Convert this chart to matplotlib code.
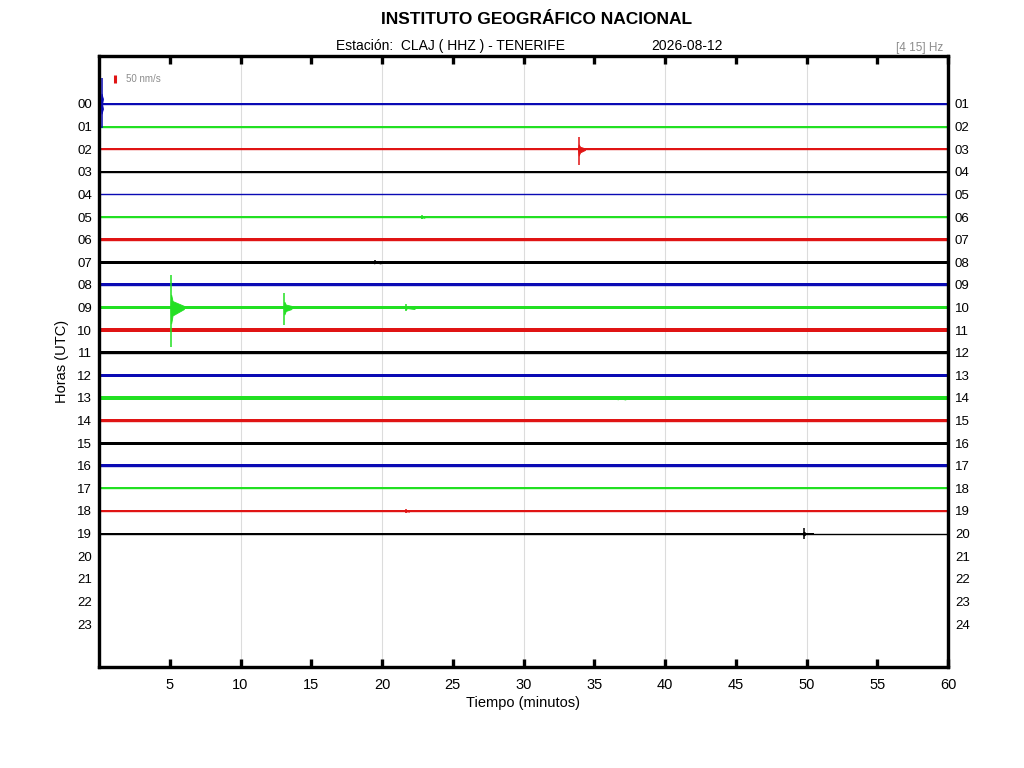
import numpy as np
import matplotlib
matplotlib.use("Agg")
import matplotlib.pyplot as plt

plt.rcParams['font.family'] = ['Liberation Sans', 'DejaVu Sans']

# ---- data ----
hours = list(range(24))
left_labels = [f"{h:02d}" for h in range(24)]
right_labels = [f"{h:02d}" for h in range(1, 25)]
x_ticks = [5, 10, 15, 20, 25, 30, 35, 40, 45, 50, 55, 60]
grid_x = [10, 20, 30, 40, 50]
# background noise half-amplitude (nm/s) for hours with data (00..19)
noise_nm = [5, 5, 5, 7, 4, 5, 7, 8, 10, 10, 10, 10, 9, 10, 9, 10, 8, 7, 5, 3]
# minute where the recorded data ends for each hour
data_end = [60] * 19 + [50.5]
# events: hour, peak minute, up amplitude (nm/s), down amplitude (nm/s), coda (min)
ev_hour = [0, 2, 9, 9, 9, 5, 18, 19, 13, 7]
ev_min = [0.18, 33.9, 5.1, 13.1, 21.7, 22.8, 21.7, 49.8, 36.7, 19.5]
ev_up = [160, 75, 200, 90, 22, 14, 10, 32, 14, 12]
ev_down = [150, 100, 250, 110, 22, 14, 10, 32, 14, 12]
ev_coda = [0.05, 0.45, 0.9, 0.5, 0.6, 0.2, 0.2, 0.05, 0.5, 0.4]
scale_nm = 50
colors = ['#0a0ab4', '#22e022', '#e01414', '#000000']

# ---- drawing ----
fig = plt.figure(figsize=(10.24, 7.68), dpi=100)
ax = fig.add_axes([99/1024, 1-667/768, (948-99)/1024, (667-56)/768])
ax.set_xlim(0, 60)
ax.set_ylim(24.9, -2.12)

unit_per_nm = (8 / 22.6) / scale_nm   # 50 nm/s bar = 8 px, hour spacing = 22.6 px

for x in grid_x:
    ax.axvline(x, color='#dcdcdc', lw=0.8, zorder=0)

for h, amp in enumerate(noise_nm):
    c = colors[h % 4]
    a = amp * unit_per_nm
    ax.plot([0, 60], [h, h], color=c, lw=1.0, zorder=2)
    ax.fill_between([0, data_end[h]], [h - a, h - a], [h + a, h + a],
                    color=c, lw=0, zorder=2)

for h, t, up, dn, coda in zip(ev_hour, ev_min, ev_up, ev_down, ev_coda):
    c = colors[h % 4]
    b = noise_nm[h] * unit_per_nm
    ax.vlines(t, h - up * unit_per_nm, h + dn * unit_per_nm, color=c, lw=1.1, zorder=3)
    xs = [t - 0.05, t, t + 0.1, t + coda]
    top = [h - b, h - up * unit_per_nm * 0.4, h - up * unit_per_nm * 0.2, h - b]
    bot = [h + b, h + dn * unit_per_nm * 0.4, h + dn * unit_per_nm * 0.2, h + b]
    ax.fill_between(xs, top, bot, color=c, lw=0.6, edgecolor=c, zorder=3)

# scale bar
ax.plot([1.1, 1.1], [-1.1 - scale_nm * unit_per_nm / 2, -1.1 + scale_nm * unit_per_nm / 2],
        color='#e01414', lw=2.2, solid_capstyle='butt', zorder=3)
ax.text(1.9, -1.1, f"{scale_nm} nm/s", fontsize=7, color='#8c8c8c', va='center', ha='left')

ax.set_yticks(hours)
ax.set_yticklabels(left_labels)
ax.tick_params(axis='y', length=0, pad=5, labelsize=9.5)
ax2 = ax.twinx()
ax2.set_ylim(ax.get_ylim())
ax2.set_yticks(hours)
ax2.set_yticklabels(right_labels)
ax2.tick_params(axis='y', length=0, pad=5, labelsize=9.5)

ax.set_xticks(x_ticks)
ax.set_xticklabels([str(v) for v in x_ticks])
ax.tick_params(axis='x', direction='in', length=6, width=2.4, top=True, labelsize=10.5, pad=8)
for a_ in (ax, ax2):
    for s in a_.spines.values():
        s.set_linewidth(2.3)

ax.set_ylabel("Horas (UTC)", fontsize=10.5, labelpad=6)
ax.set_xlabel("Tiempo (minutos)", fontsize=10.5, labelpad=3)

fig.text(0.5235, 0.975, "INSTITUTO GEOGRÁFICO NACIONAL", ha='center', va='center',
         fontsize=12.5, fontweight='bold')
fig.text(0.440, 0.940, "Estación:  CLAJ ( HHZ ) - TENERIFE", ha='center', va='center', fontsize=10)
fig.text(0.671, 0.940, "2026-08-12", ha='center', va='center', fontsize=10)
fig.text(0.898, 0.937, "[4 15] Hz", ha='center', va='center', fontsize=8.5, color='#8c8c8c')

fig.savefig("out.png", dpi=100)
